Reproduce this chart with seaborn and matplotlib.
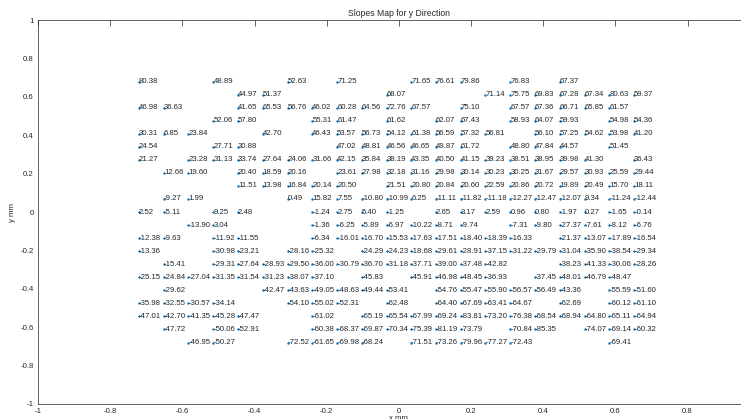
import matplotlib
matplotlib.use('Agg')
import matplotlib.pyplot as plt
import numpy as np
import pandas as pd
import seaborn as sns


# Slope values per lenslet row (top to bottom), nan = no spot
nan = np.nan
x_mm = [-0.720, -0.651, -0.583, -0.514, -0.446, -0.377, -0.308, -0.240, -0.171, -0.103, -0.034,
        0.034, 0.103, 0.172, 0.240, 0.309, 0.377, 0.446, 0.515, 0.583, 0.652]
y_mm = [0.680, 0.612, 0.544, 0.476, 0.408, 0.340, 0.272, 0.204, 0.136, 0.068, 0.000,
        -0.068, -0.136, -0.204, -0.272, -0.340, -0.408, -0.476, -0.544, -0.612, -0.680]

row00 = [80.38, nan, nan, 48.89, nan, nan, 52.63, nan, 71.25, nan, nan,
         71.65, 76.61, 79.86, nan, 76.83, nan, 67.37, nan, nan, nan]
row01 = [nan, nan, nan, nan, 44.97, 51.37, nan, nan, nan, nan, 68.07,
         nan, nan, nan, 71.14, 75.75, 69.83, 67.28, 67.34, 80.63, 59.37]
row02 = [46.98, 36.63, nan, nan, 41.65, 65.53, 56.76, 46.02, 60.28, 64.56, 72.76,
         67.57, nan, 75.10, nan, 67.57, 67.36, 66.71, 65.85, 61.57, nan]
row03 = [nan, nan, nan, 52.06, 57.80, nan, nan, 55.31, 61.47, nan, 61.62,
         nan, 62.07, 67.43, nan, 58.93, 64.07, 59.93, nan, 54.98, 54.36]
row04 = [30.31, 6.85, 23.84, nan, nan, 42.70, nan, 46.43, 53.57, 56.73, 54.12,
         61.38, 56.59, 57.32, 56.81, nan, 56.10, 57.25, 54.62, 53.98, 41.20]
row05 = [24.54, nan, nan, 27.71, 30.88, nan, nan, nan, 47.02, 48.81, 46.56,
         46.65, 49.87, 61.72, nan, 48.80, 47.84, 44.57, nan, 51.45, nan]
row06 = [21.27, nan, 23.28, 31.13, 33.74, 27.64, 24.06, 31.66, 42.15, 35.84, 38.19,
         43.35, 40.50, 41.15, 39.23, 38.51, 38.95, 39.98, 41.30, nan, 36.43]
row07 = [nan, 12.66, 19.60, nan, 20.40, 18.59, 20.16, nan, 23.61, 27.98, 32.18,
         31.16, 29.98, 30.14, 30.23, 30.25, 31.67, 29.57, 30.93, 25.59, 29.44]
row08 = [nan, nan, nan, nan, 11.51, 13.98, 16.84, 20.14, 20.50, nan, 21.51,
         20.80, 20.84, 20.60, 22.59, 20.86, 20.72, 19.89, 20.49, 15.70, 18.11]
row09 = [nan, -9.27, 1.99, nan, nan, nan, 0.49, 15.82, 7.55, -10.80, -10.99,
         6.25, -11.11, -11.82, -11.18, -12.27, -12.47, -12.07, 9.34, -11.24, -12.44]
row10 = [2.52, -5.11, nan, 9.25, 2.48, nan, nan, -1.24, 2.75, 5.40, -1.25,
         nan, 2.65, 3.17, 2.59, 0.96, 0.80, -1.97, 0.27, -1.65, -0.14]
row11 = [nan, nan, -13.90, 3.04, nan, nan, nan, -1.36, -6.25, -5.89, -6.97,
         -10.22, -8.71, -9.74, nan, -7.31, -9.80, -27.37, -7.61, -8.12, -6.76]
row12 = [-12.38, -9.63, nan, -11.92, -11.55, nan, nan, -6.34, -16.01, -16.70, -15.53,
         -17.63, -17.51, -18.40, -18.39, -16.33, nan, -21.37, -13.07, -17.89, -16.54]
row13 = [-13.36, nan, nan, -30.98, -23.21, nan, -28.16, -25.32, nan, -24.29, -24.23,
         -18.68, -29.61, -28.91, -37.15, -31.22, -29.79, -31.04, -35.90, -38.54, -29.34]
row14 = [nan, -15.41, nan, -29.31, -27.64, -28.93, -29.50, -36.00, -30.79, -36.70, -31.18,
         -37.71, -39.00, -37.48, -42.82, nan, nan, -38.23, -41.33, -30.06, -28.26]
row15 = [-25.15, -24.84, -27.04, -31.35, -31.54, -31.23, -38.07, -37.10, nan, -45.83, nan,
         -45.91, -46.98, -48.45, -36.93, nan, -37.45, -48.01, -46.79, -48.47, nan]
row16 = [nan, -29.62, nan, nan, nan, -42.47, -43.63, -49.05, -48.63, -49.44, -53.41,
         nan, -54.76, -55.47, -55.90, -56.57, -56.49, -43.36, nan, -55.59, -51.60]
row17 = [-35.98, -32.55, -30.57, -34.14, nan, nan, -54.10, -55.02, -52.31, nan, -62.48,
         nan, -64.40, -67.69, -63.41, -64.67, nan, -62.69, nan, -60.12, -61.10]
row18 = [-47.01, -42.70, -41.35, -45.28, -47.47, nan, nan, -61.02, nan, -65.19, -65.54,
         -67.99, -69.24, -83.81, -73.20, -76.38, -68.54, -68.94, -64.80, -65.11, -64.94]
row19 = [nan, -47.72, nan, -50.06, -52.91, nan, nan, -60.38, -68.37, -69.87, -70.34,
         -75.39, -81.19, -73.79, nan, -70.84, -85.35, nan, -74.07, -69.14, -60.32]
row20 = [nan, nan, -46.95, -50.27, nan, nan, -72.52, -61.65, -69.98, -68.24, nan,
         -71.51, -73.26, -79.96, -77.27, -72.43, nan, nan, nan, -69.41, nan]

rows = [row00, row01, row02, row03, row04, row05, row06, row07, row08, row09, row10,
        row11, row12, row13, row14, row15, row16, row17, row18, row19, row20]

ticks = [-1, -0.8, -0.6, -0.4, -0.2, 0, 0.2, 0.4, 0.6, 0.8, 1]
y_tick_labels = ['-1', '-0.8', '-0.6', '-0.4', '-0.2', '0', '0.2', '0.4', '0.6', '0.8', '1']
# last x label falls outside the cropped picture
x_tick_labels = ['-1', '-0.8', '-0.6', '-0.4', '-0.2', '0', '0.2', '0.4', '0.6', '0.8', '']

records = []
for yv, vals in zip(y_mm, rows):
    for xv, s in zip(x_mm, vals):
        if not np.isnan(s):
            records.append((xv, yv, s))
df = pd.DataFrame(records, columns=['x', 'y', 'slope'])

sns.set_style('white')
plt.rcParams['font.family'] = ['Liberation Sans', 'DejaVu Sans']

fig = plt.figure(figsize=(7.41, 4.19), dpi=100)
# the original figure is cropped on the right, so the axes run past the edge
ax = fig.add_axes([0.0513, 0.036, 0.974, 0.916])

sns.scatterplot(data=df, x='x', y='y', ax=ax, color='#0072BD', s=3,
                linewidth=0, legend=False)
for _, r in df.iterrows():
    ax.text(r['x'], r['y'], '%.2f' % r['slope'], fontsize=5.6,
            ha='left', va='center', color='#262626')

ax.set_xlim(-1, 1)
ax.set_ylim(-1, 1)
ax.set_xticks(ticks)
ax.set_xticklabels(x_tick_labels)
ax.set_yticks(ticks)
ax.set_yticklabels(y_tick_labels)
ax.tick_params(direction='in', length=4, width=0.5, labelsize=5.6,
               top=True, right=True, colors='#262626', pad=3)
for sp in ax.spines.values():
    sp.set_linewidth(0.5)
    sp.set_color('#262626')
ax.set_xlabel('x mm', fontsize=5.6, labelpad=0)
ax.set_ylabel('y mm', fontsize=5.6, labelpad=3)
ax.set_title('Slopes Map for y Direction', fontsize=6.2, pad=3)

fig.savefig('out.png', dpi=100)
